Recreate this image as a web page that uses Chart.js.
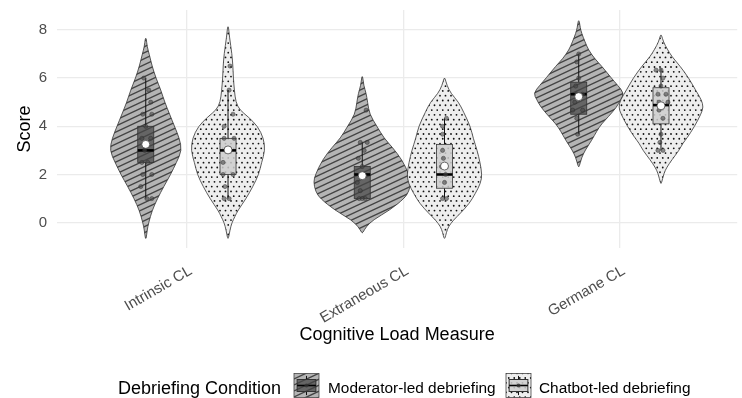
<!DOCTYPE html>
<html>
<head>
<meta charset="utf-8">
<script src="https://cdn.jsdelivr.net/npm/chart.js@4.4.1/dist/chart.umd.min.js"></script>
<style>
  html, body { margin: 0; padding: 0; background: #fff; }
</style>
</head>
<body>
<canvas id="c" width="742" height="398"></canvas>
<script>
// ---- data ----
const categories = ["Intrinsic CL", "Extraneous CL", "Germane CL"];
const conditions = ["Moderator-led debriefing", "Chatbot-led debriefing"];
const yTicks = [0, 2, 4, 6, 8];

// violin outlines: [score, relative density]
const violinModIntrinsic = [[-0.65,0.01],[-0.3,0.03],[0,0.06],[0.5,0.13],[1,0.24],[1.5,0.37],[2,0.51],[2.5,0.63],[3,0.74],[3.5,0.69],[4,0.59],[4.5,0.49],[5,0.39],[5.5,0.31],[6,0.21],[6.5,0.13],[7,0.07],[7.3,0.03],[7.65,0.01]];
const violinChatIntrinsic = [[-0.65,0.01],[-0.3,0.04],[0,0.08],[0.25,0.14],[0.5,0.2],[1,0.37],[1.5,0.51],[2,0.63],[2.5,0.69],[3,0.76],[3.5,0.73],[4,0.61],[4.4,0.41],[4.68,0.24],[5,0.16],[5.5,0.13],[6,0.11],[6.5,0.1],[7,0.08],[7.7,0.03],[8.13,0.01]];
const violinModExtraneous = [[-0.42,0.01],[-0.17,0.08],[0.11,0.22],[0.53,0.57],[1,0.86],[1.3,0.96],[1.7,1],[2,0.96],[2.6,0.82],[3.15,0.61],[3.5,0.45],[4,0.3],[4.5,0.15],[5,0.11],[5.37,0.08],[5.7,0.03],[6.06,0.01]];
const violinChatExtraneous = [[-0.65,0.01],[-0.4,0.04],[-0.17,0.08],[0.1,0.18],[0.4,0.33],[0.8,0.51],[1.2,0.63],[1.63,0.74],[2,0.77],[2.5,0.73],[3,0.67],[3.5,0.59],[4,0.53],[4.6,0.39],[5,0.29],[5.37,0.13],[5.7,0.05],[6,0.01]];
const violinModGermane = [[2.32,0.01],[2.7,0.06],[3,0.13],[3.43,0.27],[3.8,0.37],[4.1,0.47],[4.4,0.61],[4.8,0.78],[5.1,0.86],[5.37,0.93],[5.7,0.8],[6,0.67],[6.5,0.47],[6.8,0.33],[7.17,0.2],[7.5,0.13],[7.86,0.06],[8.1,0.03],[8.38,0.01]];
const violinChatGermane = [[1.63,0.01],[2.05,0.06],[2.3,0.12],[2.6,0.22],[3,0.37],[3.3,0.45],[3.5,0.53],[4,0.69],[4.5,0.82],[4.8,0.87],[5.1,0.83],[5.5,0.71],[6,0.57],[6.5,0.39],[6.9,0.22],[7.2,0.13],[7.5,0.05],[7.79,0.01]];

// box plot stats, one value per category
const modLow = [1, 1, 3.67];
const modQ1 = [2.5, 1, 4.5];
const modMedian = [3, 2, 5.33];
const modQ3 = [4, 2.33, 5.83];
const modHigh = [6, 3.33, 7];
const modMean = [3.25, 1.95, 5.23];
const chatLow = [1, 1, 3];
const chatQ1 = [2, 1.43, 4.1];
const chatMedian = [3, 2, 4.88];
const chatQ3 = [3.5, 3.25, 5.6];
const chatHigh = [5.5, 4.33, 6.4];
const chatMean = [3.02, 2.35, 4.85];

// jittered observations: [score, x jitter in category units]
const ptsModIntrinsic = [[6,-0.009],[5.5,0.014],[5,0.023],[4.5,-0.014],[4.5,0.028],[4,0],[3.5,-0.018],[3.5,0.023],[3,-0.005],[2.5,-0.018],[2.5,0.009],[2,-0.014],[2,0.028],[1.5,-0.023],[1,0.005],[1,0.028]];
const ptsChatIntrinsic = [[6.5,0.009],[5.5,0.005],[4.5,0.023],[4,-0.018],[3.5,-0.018],[3.5,0.028],[3,0],[2.5,-0.023],[2,-0.023],[2,0.023],[1.5,-0.014],[1,-0.018],[1,0.005]];
const ptsModExtraneous = [[4.67,0.018],[3.33,-0.009],[3.33,0.023],[3,0.009],[2.67,-0.018],[2.33,0],[2,-0.009],[1.67,-0.023],[1.33,-0.009],[1,-0.014],[1,0.014],[1,0]];
const ptsChatExtraneous = [[4.33,0.009],[4,-0.009],[3.67,-0.009],[3,-0.009],[2.67,-0.005],[2.33,-0.014],[2,0.005],[1.67,0],[1,-0.009],[1,0.009]];
const ptsModGermane = [[7,0],[6.67,-0.009],[6,0],[5.67,-0.014],[5.33,0.018],[5.33,-0.009],[5,-0.018],[4.67,-0.028],[4.67,0.018],[4.33,-0.009],[3.67,-0.005]];
const ptsChatGermane = [[6.33,-0.023],[6.33,0],[6,0.009],[5.67,0],[5.33,-0.014],[5.33,0.023],[5,-0.009],[5,0.032],[4.67,-0.009],[4.33,0.009],[3.67,0],[3.33,-0.005],[3,-0.014],[3,0.009]];

// ---- look ----
const FONT = "'Liberation Sans', Arial, sans-serif";
const DODGE = 0.19;
const VIOLIN_HALF = 0.225;
const BOX_HALF = 0.037;

const violins = [
  [violinModIntrinsic, violinChatIntrinsic],
  [violinModExtraneous, violinChatExtraneous],
  [violinModGermane, violinChatGermane]
];
const boxes = [
  { low: modLow, q1: modQ1, med: modMedian, q3: modQ3, high: modHigh, mean: modMean },
  { low: chatLow, q1: chatQ1, med: chatMedian, q3: chatQ3, high: chatHigh, mean: chatMean }
];
const points = [
  [ptsModIntrinsic, ptsModExtraneous, ptsModGermane],
  [ptsChatIntrinsic, ptsChatExtraneous, ptsChatGermane]
];

function centre(cat, cond) {
  return cat + 1 + (cond === 0 ? -DODGE : DODGE);
}

function fillPattern(ctx, cond, bx0, by0, bx1, by1) {
  if (cond === 0) {
    ctx.fillStyle = "#b4b4b4";
    ctx.fillRect(bx0, by0, bx1 - bx0, by1 - by0);
    const t = Math.tan(25 * Math.PI / 180);
    const sp = 6;
    ctx.strokeStyle = "rgba(40,40,40,0.8)";
    ctx.lineWidth = 1.4;
    const kStart = Math.floor((by0 + t * bx0) / sp) - 1;
    const kEnd = Math.ceil((by1 + t * bx1) / sp) + 1;
    ctx.beginPath();
    for (let k = kStart; k <= kEnd; k++) {
      const b = k * sp;
      ctx.moveTo(bx0, b - t * bx0);
      ctx.lineTo(bx1, b - t * bx1);
    }
    ctx.stroke();
  } else {
    ctx.fillStyle = "#eeeeee";
    ctx.fillRect(bx0, by0, bx1 - bx0, by1 - by0);
    const s = 5.5;
    const rowH = s * 0.87;
    ctx.fillStyle = "#111";
    const r0 = Math.floor(by0 / rowH) - 1, r1 = Math.ceil(by1 / rowH) + 1;
    for (let r = r0; r <= r1; r++) {
      const off = (r % 2 === 0) ? 0 : s / 2;
      const c0 = Math.floor(bx0 / s) - 1, c1 = Math.ceil(bx1 / s) + 1;
      for (let c = c0; c <= c1; c++) {
        ctx.beginPath();
        ctx.arc(c * s + off, r * rowH, 0.9, 0, Math.PI * 2);
        ctx.fill();
      }
    }
  }
}

function violinPath(ctx, xs, ys, cx, prof) {
  const pts = [];
  for (const [v, d] of prof) pts.push([xs.getPixelForValue(cx + d * VIOLIN_HALF), ys.getPixelForValue(v)]);
  for (let i = prof.length - 1; i >= 0; i--) {
    const [v, d] = prof[i];
    pts.push([xs.getPixelForValue(cx - d * VIOLIN_HALF), ys.getPixelForValue(v)]);
  }
  const n = pts.length;
  const mid = (a, b) => [(a[0] + b[0]) / 2, (a[1] + b[1]) / 2];
  ctx.beginPath();
  const m0 = mid(pts[n - 1], pts[0]);
  ctx.moveTo(m0[0], m0[1]);
  for (let i = 0; i < n; i++) {
    const p = pts[i], q = pts[(i + 1) % n];
    const m = mid(p, q);
    ctx.quadraticCurveTo(p[0], p[1], m[0], m[1]);
  }
  ctx.closePath();
  let minX = Infinity, maxX = -Infinity, minY = Infinity, maxY = -Infinity;
  for (const p of pts) {
    minX = Math.min(minX, p[0]); maxX = Math.max(maxX, p[0]);
    minY = Math.min(minY, p[1]); maxY = Math.max(maxY, p[1]);
  }
  return [minX - 2, minY - 2, maxX + 2, maxY + 2];
}

const violinPlugin = {
  id: "violins",
  beforeDatasetsDraw(chart) {
    const { ctx } = chart;
    const xs = chart.scales.x, ys = chart.scales.y;
    for (let cat = 0; cat < categories.length; cat++) {
      for (let cond = 0; cond < 2; cond++) {
        const cx = centre(cat, cond);
        // violin
        ctx.save();
        const bb = violinPath(ctx, xs, ys, cx, violins[cat][cond]);
        ctx.clip();
        fillPattern(ctx, cond, bb[0], bb[1], bb[2], bb[3]);
        ctx.restore();
        ctx.save();
        violinPath(ctx, xs, ys, cx, violins[cat][cond]);
        ctx.strokeStyle = "#333";
        ctx.lineWidth = 0.8;
        ctx.stroke();
        ctx.restore();

        // box plot
        const b = boxes[cond];
        const xl = xs.getPixelForValue(cx - BOX_HALF), xr = xs.getPixelForValue(cx + BOX_HALF);
        const xc = xs.getPixelForValue(cx);
        const yq1 = ys.getPixelForValue(b.q1[cat]), yq3 = ys.getPixelForValue(b.q3[cat]);
        ctx.save();
        ctx.strokeStyle = "#111";
        ctx.lineWidth = 1;
        ctx.beginPath();
        ctx.moveTo(xc, ys.getPixelForValue(b.high[cat]));
        ctx.lineTo(xc, yq3);
        ctx.moveTo(xc, yq1);
        ctx.lineTo(xc, ys.getPixelForValue(b.low[cat]));
        ctx.stroke();
        ctx.fillStyle = cond === 0 ? "rgba(70,70,70,0.72)" : "rgba(205,205,205,0.85)";
        ctx.fillRect(xl, yq3, xr - xl, yq1 - yq3);
        ctx.strokeStyle = "#333";
        ctx.lineWidth = 0.8;
        ctx.strokeRect(xl, yq3, xr - xl, yq1 - yq3);
        ctx.strokeStyle = "#000";
        ctx.lineWidth = 2.6;
        ctx.beginPath();
        const ym = ys.getPixelForValue(b.med[cat]);
        ctx.moveTo(xl, ym);
        ctx.lineTo(xr, ym);
        ctx.stroke();
        ctx.restore();
      }
    }
  }
};

function drawKey(ctx, x, y, w, h, cond) {
  ctx.save();
  ctx.beginPath();
  ctx.rect(x, y, w, h);
  ctx.clip();
  fillPattern(ctx, cond, x, y, x + w, y + h);
  ctx.restore();
  ctx.save();
  ctx.strokeStyle = "#444";
  ctx.lineWidth = 0.8;
  ctx.strokeRect(x, y, w, h);
  const xc = x + w / 2;
  ctx.strokeStyle = "#111";
  ctx.lineWidth = 1;
  ctx.beginPath();
  ctx.moveTo(xc, y + 0.1 * h); ctx.lineTo(xc, y + 0.25 * h);
  ctx.moveTo(xc, y + 0.75 * h); ctx.lineTo(xc, y + 0.9 * h);
  ctx.stroke();
  ctx.fillStyle = cond === 0 ? "rgba(70,70,70,0.72)" : "rgba(205,205,205,0.85)";
  ctx.fillRect(x + 0.125 * w, y + 0.25 * h, 0.75 * w, 0.5 * h);
  ctx.strokeStyle = "#333";
  ctx.strokeRect(x + 0.125 * w, y + 0.25 * h, 0.75 * w, 0.5 * h);
  ctx.lineWidth = 1.6;
  ctx.strokeStyle = "#000";
  ctx.beginPath();
  ctx.moveTo(x + 0.125 * w, y + 0.5 * h); ctx.lineTo(x + 0.875 * w, y + 0.5 * h);
  ctx.stroke();
  ctx.fillStyle = "rgba(50,50,50,0.8)";
  ctx.beginPath();
  ctx.arc(xc, y + 0.5 * h, 2, 0, Math.PI * 2);
  ctx.fill();
  ctx.restore();
}

const legendPlugin = {
  id: "ggLegend",
  afterDraw(chart) {
    const { ctx } = chart;
    ctx.save();
    ctx.fillStyle = "#000";
    ctx.textBaseline = "alphabetic";
    ctx.textAlign = "left";
    ctx.font = "18px " + FONT;
    ctx.fillText("Debriefing Condition", 118, 394);
    drawKey(ctx, 294, 373.5, 25, 24, 0);
    drawKey(ctx, 506, 373.5, 25, 24, 1);
    ctx.fillStyle = "#000";
    ctx.font = "15.4px " + FONT;
    ctx.fillText(conditions[0], 328, 392.5);
    ctx.fillText(conditions[1], 539, 392.5);
    ctx.restore();
  }
};

const datasets = [];
datasets.push({
  label: "mean",
  order: 0,
  data: boxes.flatMap((b, cond) => b.mean.map((m, cat) => ({ x: centre(cat, cond), y: m }))),
  pointRadius: 4,
  pointBackgroundColor: "#ffffff",
  pointBorderColor: "#444",
  pointBorderWidth: 0.8
});
for (let cond = 0; cond < 2; cond++) {
  for (let cat = 0; cat < 3; cat++) {
    datasets.push({
      label: conditions[cond] + " " + categories[cat],
      order: 1,
      data: points[cond][cat].map(([v, j]) => ({ x: centre(cat, cond) + j, y: v })),
      pointRadius: 2.1,
      pointBackgroundColor: "rgba(70,70,70,0.6)",
      pointBorderColor: "rgba(40,40,40,0.7)",
      pointBorderWidth: 0.6
    });
  }
}

new Chart(document.getElementById("c"), {
  type: "scatter",
  data: { datasets },
  options: {
    responsive: false,
    animation: false,
    devicePixelRatio: 1,
    layout: { padding: { top: 10, right: 0, bottom: 50, left: 0 } },
    plugins: { legend: { display: false }, tooltip: { enabled: false } },
    scales: {
      x: {
        type: "linear",
        min: 0.4,
        max: 3.542,
        afterBuildTicks: (s) => { s.ticks = categories.map((c, i) => ({ value: i + 1 })); },
        afterFit: (s) => { s.height = 100; s.paddingLeft = 0; s.paddingRight = 0; },
        ticks: {
          callback: (v) => categories[v - 1],
          minRotation: 30,
          maxRotation: 30,
          autoSkip: false,
          padding: 14,
          labelOffset: 4,
          color: "#4d4d4d",
          font: { family: FONT, size: 15 }
        },
        grid: { color: "#ebebeb", lineWidth: 1.3, drawTicks: false },
        border: { display: false },
        title: {
          display: true,
          text: "Cognitive Load Measure",
          color: "#000",
          font: { family: FONT, size: 18 },
          padding: { top: 0, bottom: 2 }
        }
      },
      y: {
        min: -1.05,
        max: 8.825,
        afterBuildTicks: (s) => { s.ticks = yTicks.map((v) => ({ value: v })); },
        afterFit: (s) => { s.width = 57; s.paddingTop = 0; s.paddingBottom = 0; },
        ticks: {
          padding: 10,
          color: "#4d4d4d",
          font: { family: FONT, size: 15 }
        },
        grid: { color: "#ebebeb", lineWidth: 1.3, drawTicks: false },
        border: { display: false },
        title: {
          display: true,
          text: "Score",
          color: "#000",
          font: { family: FONT, size: 18 },
          padding: { top: 14, bottom: 0 }
        }
      }
    }
  },
  plugins: [violinPlugin, legendPlugin]
});
</script>
</body>
</html>
